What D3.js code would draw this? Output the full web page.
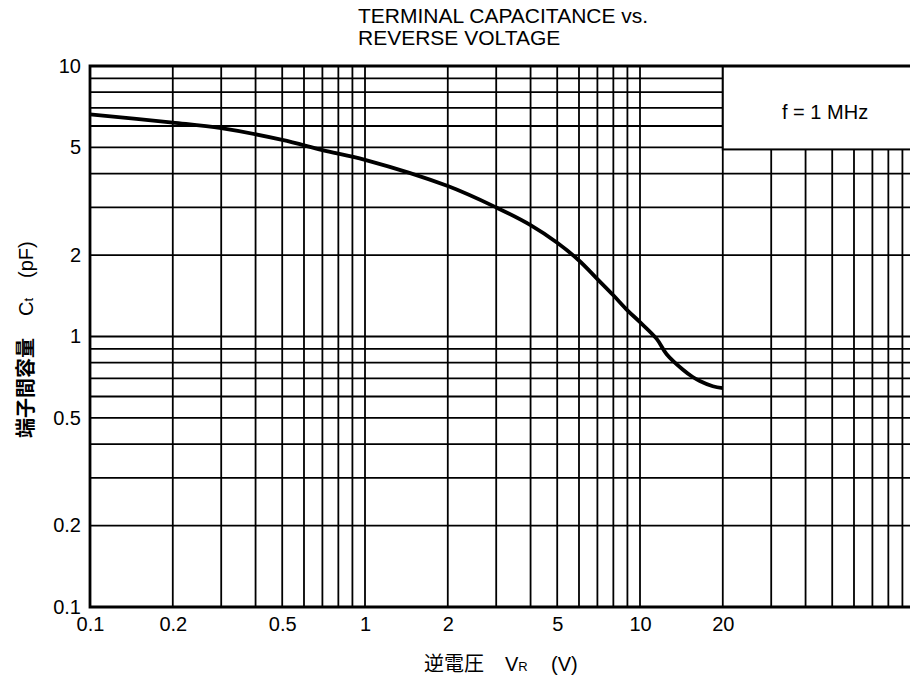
<!DOCTYPE html>
<html>
<head>
<meta charset="utf-8">
<script src="https://cdn.jsdelivr.net/npm/d3@7"></script>
<style>
  body { margin: 0; background: #fff; }
  svg { display: block; }
</style>
</head>
<body>
<script>
// curve: reverse voltage (V) vs terminal capacitance (pF)
var voltage = [0.1, 0.2, 0.3, 0.5, 0.7, 1, 2, 3, 4, 5, 6, 7, 8, 9, 10, 11.5, 12.5, 14.3, 15.5, 16.5, 18.4, 20];
var capacitance = [6.63, 6.18, 5.89, 5.33, 4.89, 4.5, 3.6, 3.0, 2.58, 2.22, 1.91, 1.63, 1.42, 1.25, 1.13, 0.98, 0.86, 0.755, 0.71, 0.685, 0.655, 0.645];

var xTicks = [0.1, 0.2, 0.5, 1, 2, 5, 10, 20];
var yTicks = [0.1, 0.2, 0.5, 1, 2, 5, 10];
var titleLines = ["TERMINAL CAPACITANCE vs.", "REVERSE VOLTAGE"];
var legendText = "f = 1 MHz";

var width = 910,
    height = 684,
    font = "'Liberation Sans', Arial, sans-serif",
    cjk = "'Noto Sans CJK JP', sans-serif";

var x = d3.scaleLog().domain([0.1, 100]).range([90, 915]);
var y = d3.scaleLog().domain([0.1, 10]).range([607, 66]);

var svg = d3.select("body").append("svg")
    .attr("width", width)
    .attr("height", height);

// grid, 1..9 per decade
var grid = svg.append("g")
    .attr("stroke", "#000")
    .attr("stroke-width", 1.8);

grid.selectAll(".vx")
  .data(x.ticks())
  .join("line")
    .attr("class", "vx")
    .attr("x1", d => x(d))
    .attr("x2", d => x(d))
    .attr("y1", y(0.1))
    .attr("y2", y(10));

grid.selectAll(".hy")
  .data(y.ticks())
  .join("line")
    .attr("class", "hy")
    .attr("x1", x(0.1))
    .attr("x2", x(100))
    .attr("y1", d => y(d))
    .attr("y2", d => y(d));

// legend box, upper right corner (20 V .. off the edge, 5 .. 10 pF)
svg.append("rect")
    .attr("x", x(20))
    .attr("y", y(10))
    .attr("width", x(100) - x(20) + 10)
    .attr("height", y(5) - y(10) + 2)
    .attr("fill", "#fff")
    .attr("stroke", "#000")
    .attr("stroke-width", 2);

svg.append("text")
    .attr("x", 782)
    .attr("y", 119)
    .attr("font-family", font)
    .attr("font-size", 20)
    .text(legendText);

// frame
svg.append("path")
    .attr("d", "M" + x(100) + "," + y(10) + "H" + x(0.1) + "V" + y(0.1) + "H" + x(100))
    .attr("fill", "none")
    .attr("stroke", "#000")
    .attr("stroke-width", 2.8);

// curve
var line = d3.line()
    .x(d => x(d[0]))
    .y(d => y(d[1]))
    .curve(d3.curveCatmullRom.alpha(0.5));

svg.append("path")
    .datum(d3.zip(voltage, capacitance))
    .attr("d", line)
    .attr("fill", "none")
    .attr("stroke", "#000")
    .attr("stroke-width", 3.8)
    .attr("stroke-linecap", "butt");

// axes
svg.append("g")
    .attr("transform", "translate(0," + y(0.1) + ")")
    .call(d3.axisBottom(x).tickValues(xTicks).tickSize(0).tickPadding(10).tickFormat(d => String(d)))
    .call(g => g.select(".domain").remove())
    .attr("font-family", font)
    .attr("font-size", 20);

svg.append("g")
    .attr("transform", "translate(" + x(0.1) + ",0)")
    .call(d3.axisLeft(y).tickValues(yTicks).tickSize(0).tickPadding(9).tickFormat(d => String(d)))
    .call(g => g.select(".domain").remove())
    .attr("font-family", font)
    .attr("font-size", 20);

// title
svg.append("text")
    .attr("font-family", font)
    .attr("font-size", 21)
  .selectAll("tspan")
  .data(titleLines)
  .join("tspan")
    .attr("x", 358)
    .attr("y", (d, i) => 23 + i * 22)
    .text(d => d);

// x axis title
var xt = svg.append("text")
    .attr("y", 671)
    .attr("font-family", font)
    .attr("font-size", 20);
xt.append("tspan").attr("x", 424).attr("font-family", cjk).text("逆電圧");
xt.append("tspan").attr("x", 505).text("V");
xt.append("tspan").attr("font-size", 13).text("R");
xt.append("tspan").attr("x", 551).text("(V)");

// y axis title
var yt = svg.append("text")
    .attr("transform", "translate(33,438) rotate(-90)")
    .attr("font-family", font)
    .attr("font-size", 20);
yt.append("tspan").attr("font-family", cjk).attr("font-weight", 700).text("端子間容量");
yt.append("tspan").attr("dx", 22).text("C");
yt.append("tspan").attr("font-size", 13).text("t");
yt.append("tspan").attr("dx", 20).text("(pF)");
</script>
</body>
</html>
